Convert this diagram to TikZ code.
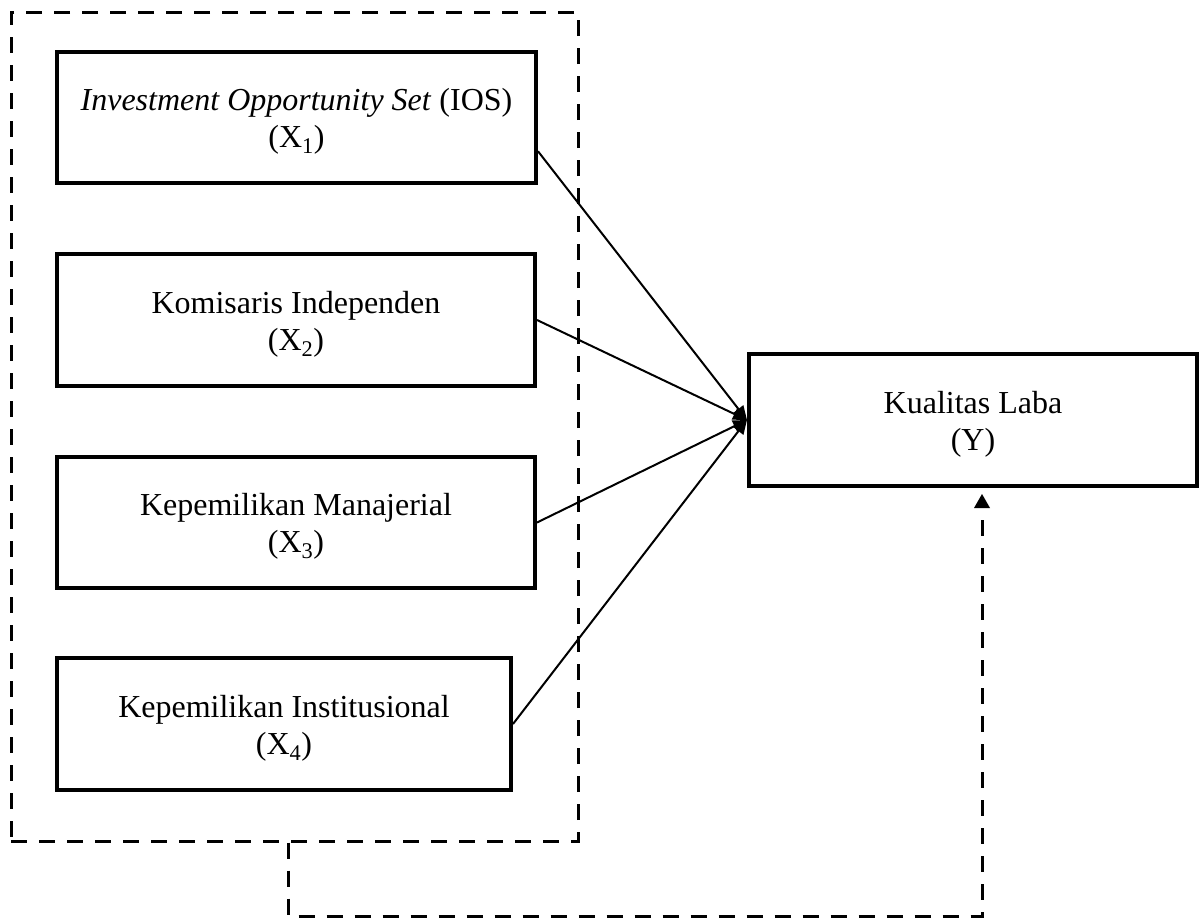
\documentclass[tikz,border=0pt]{standalone}
\usepackage{fontspec}
\setmainfont{Liberation Serif}
\usetikzlibrary{arrows.meta,calc}
\begin{document}
\begin{tikzpicture}[x=1pt,y=-1pt,
  varbox/.style={draw, line width=4pt, rectangle, inner sep=0pt},
  lbl/.style={align=center, font=\fontsize{32}{37}\selectfont, yshift=-4pt, inner sep=0pt},
  groupbox/.style={draw, line width=3pt, dash pattern=on 16pt off 12pt, rectangle, inner sep=0pt},
  dashline/.style={line width=3pt, dash pattern=on 16pt off 12pt},
  effect/.style={line width=2pt, -{Triangle[length=14pt,width=12pt]}}
]
\useasboundingbox (0,0) rectangle (1200,921);

\node[groupbox, minimum width=567pt, minimum height=829pt] (grp) at (294.5,426.5) {};

\node[varbox, minimum width=479pt, minimum height=131pt,
  label={[lbl]center:\textit{Investment Opportunity Set} (IOS)\\(X\textsubscript{1})}] (b1) at (296.5,117.5) {};
\node[varbox, minimum width=478pt, minimum height=132pt,
  label={[lbl]center:Komisaris Independen\\(X\textsubscript{2})}] (b2) at (296,320) {};
\node[varbox, minimum width=478pt, minimum height=131pt,
  label={[lbl]center:Kepemilikan Manajerial\\(X\textsubscript{3})}] (b3) at (296,522.5) {};
\node[varbox, minimum width=454pt, minimum height=132pt,
  label={[lbl]center:Kepemilikan Institusional\\(X\textsubscript{4})}] (b4) at (284,724) {};
\node[varbox, minimum width=448pt, minimum height=132pt,
  label={[lbl]center:Kualitas Laba\\(Y)}] (y) at (973,420) {};

\draw[effect] ($(b1.north east)!0.75!(b1.south east)$) -- (y.west);
\draw[effect] (b2.east) -- (y.west);
\draw[effect] (b3.east) -- (y.west);
\draw[effect] (b4.east) -- (y.west);

\coordinate (s) at ($(grp.south)+(-6.5,0)$);
\coordinate (t) at ($(y.south)+(9,20)$);
\coordinate (low) at (0,916);
\draw[dashline] (s) -- (s |- low) -| (t);
\fill ($(y.south)+(9,6)$) -- ++(-8,14) -- ++(16,0) -- cycle;
\end{tikzpicture}
\end{document}
